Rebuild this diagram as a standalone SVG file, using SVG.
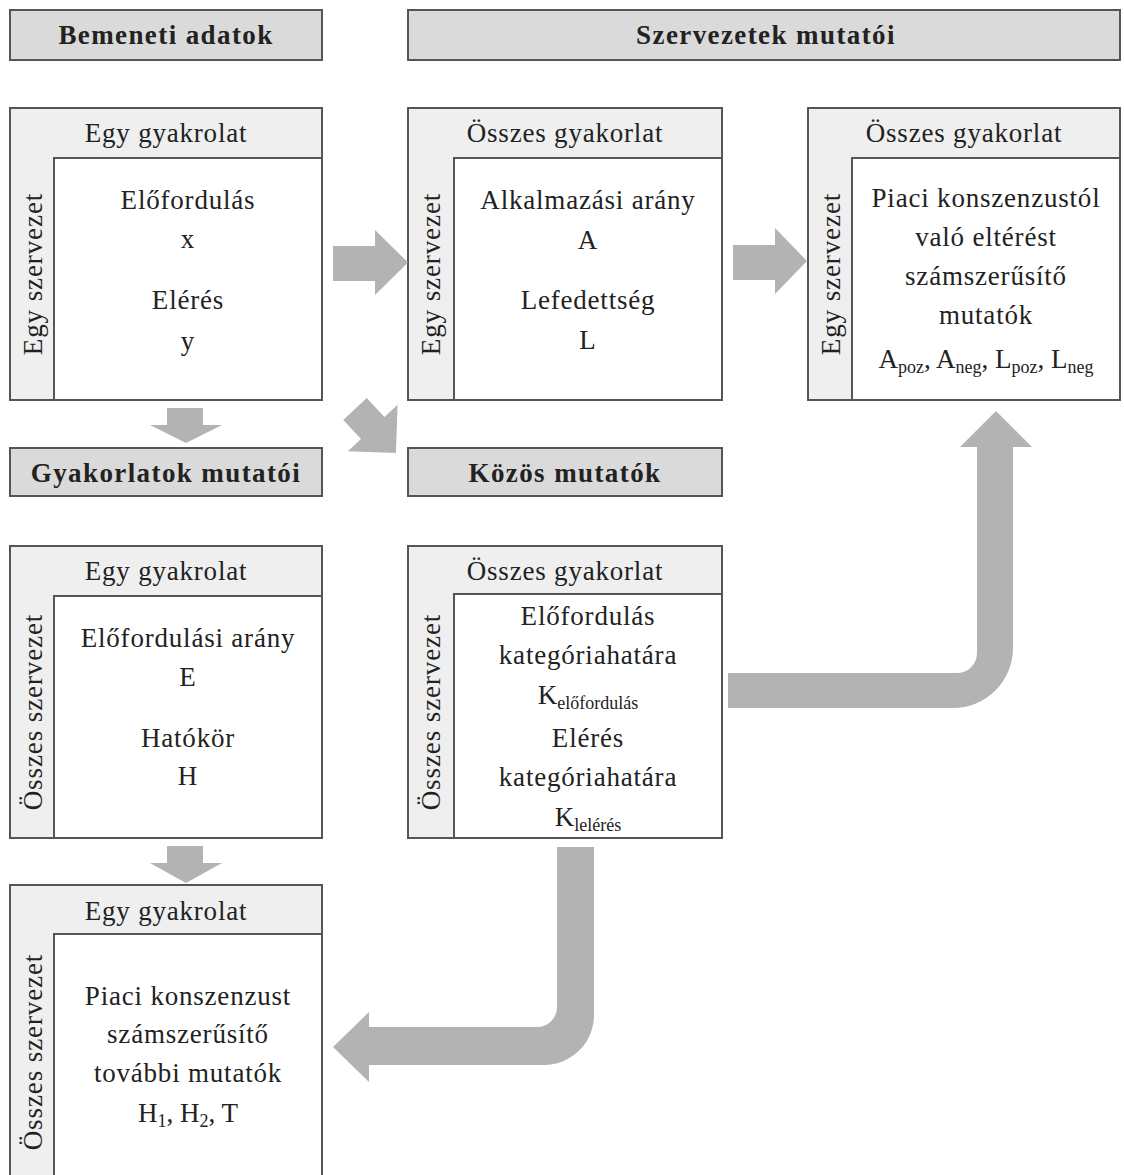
<svg xmlns="http://www.w3.org/2000/svg" width="1124" height="1175" viewBox="0 0 1124 1175">
<style>
text{font-family:"Liberation Serif","Times New Roman",serif;fill:#222;text-anchor:middle}
.hd{fill:#dadada;stroke:#555;stroke-width:2}
.ht{font-size:27px;font-weight:bold;letter-spacing:1.4px}
.outer{fill:#efefef;stroke:#555;stroke-width:2}
.inner{fill:#fff;stroke:#555;stroke-width:2}
.t{font-size:27px;letter-spacing:0.8px}
.v{font-size:27px;letter-spacing:0.9px}
.sub{font-size:18px;letter-spacing:0}
.arr{fill:#b3b3b3}
</style>
<rect width="1124" height="1175" fill="#fff"/>
<g id="h-bemeneti"><rect class="hd" x="10" y="10" width="312" height="50"/><text class="ht" x="166" y="44">Bemeneti adatok</text></g>
<g id="h-szervezetek"><rect class="hd" x="408" y="10" width="712" height="50"/><text class="ht" x="766" y="44">Szervezetek mutatói</text></g>
<g id="h-gyakorlatok"><rect class="hd" x="10" y="448" width="312" height="48"/><text class="ht" x="166" y="482">Gyakorlatok mutatói</text></g>
<g id="h-kozos"><rect class="hd" x="408" y="448" width="314" height="48"/><text class="ht" x="565" y="482">Közös mutatók</text></g>

<g id="box-input">
<rect class="outer" x="10" y="108" width="312" height="292"/>
<rect class="inner" x="54" y="158" width="268" height="242"/>
<text class="t" x="166" y="142">Egy gyakrolat</text>
<text class="v" transform="translate(42,274) rotate(-90)">Egy szervezet</text>
<text class="t" x="188" y="209">Előfordulás</text>
<text class="t" x="188" y="248">x</text>
<text class="t" x="188" y="309">Elérés</text>
<text class="t" x="188" y="350">y</text>
</g>

<g id="box-org1">
<rect class="outer" x="408" y="108" width="314" height="292"/>
<rect class="inner" x="454" y="158" width="268" height="242"/>
<text class="t" x="565" y="142">Összes gyakorlat</text>
<text class="v" transform="translate(440,274) rotate(-90)">Egy szervezet</text>
<text class="t" x="588" y="209">Alkalmazási arány</text>
<text class="t" x="588" y="249">A</text>
<text class="t" x="588" y="309">Lefedettség</text>
<text class="t" x="588" y="349">L</text>
</g>

<g id="box-org2">
<rect class="outer" x="808" y="108" width="312" height="292"/>
<rect class="inner" x="852" y="158" width="268" height="242"/>
<text class="t" x="964" y="142">Összes gyakorlat</text>
<text class="v" transform="translate(840,274) rotate(-90)">Egy szervezet</text>
<text class="t" x="986" y="207">Piaci konszenzustól</text>
<text class="t" x="986" y="246">való eltérést</text>
<text class="t" x="986" y="285">számszerűsítő</text>
<text class="t" x="986" y="324">mutatók</text>
<text class="t" x="986" y="368" style="letter-spacing:0">A<tspan class="sub" dy="5">poz</tspan><tspan dy="-5">, A</tspan><tspan class="sub" dy="5">neg</tspan><tspan dy="-5">, L</tspan><tspan class="sub" dy="5">poz</tspan><tspan dy="-5">, L</tspan><tspan class="sub" dy="5">neg</tspan></text>
</g>

<g id="box-prac1">
<rect class="outer" x="10" y="546" width="312" height="292"/>
<rect class="inner" x="54" y="596" width="268" height="242"/>
<text class="t" x="166" y="580">Egy gyakrolat</text>
<text class="v" transform="translate(42,712) rotate(-90)">Összes szervezet</text>
<text class="t" x="188" y="647">Előfordulási arány</text>
<text class="t" x="188" y="686">E</text>
<text class="t" x="188" y="747">Hatókör</text>
<text class="t" x="188" y="785">H</text>
</g>

<g id="box-common">
<rect class="outer" x="408" y="546" width="314" height="292"/>
<rect class="inner" x="454" y="594" width="268" height="244"/>
<text class="t" x="565" y="580">Összes gyakorlat</text>
<text class="v" transform="translate(440,712) rotate(-90)">Összes szervezet</text>
<text class="t" x="588" y="625">Előfordulás</text>
<text class="t" x="588" y="664">kategóriahatára</text>
<text class="t" x="588" y="704" style="letter-spacing:0">K<tspan class="sub" dy="5">előfordulás</tspan></text>
<text class="t" x="588" y="747">Elérés</text>
<text class="t" x="588" y="786">kategóriahatára</text>
<text class="t" x="588" y="826" style="letter-spacing:0">K<tspan class="sub" dy="5">lelérés</tspan></text>
</g>

<g id="box-prac2">
<rect class="outer" x="10" y="885" width="312" height="295"/>
<rect class="inner" x="54" y="934" width="268" height="246"/>
<text class="t" x="166" y="920">Egy gyakrolat</text>
<text class="v" transform="translate(42,1052) rotate(-90)">Összes szervezet</text>
<text class="t" x="188" y="1005">Piaci konszenzust</text>
<text class="t" x="188" y="1043">számszerűsítő</text>
<text class="t" x="188" y="1082">további mutatók</text>
<text class="t" x="188" y="1122" style="letter-spacing:0">H<tspan class="sub" dy="5">1</tspan><tspan dy="-5">, H</tspan><tspan class="sub" dy="5">2</tspan><tspan dy="-5">, T</tspan></text>
</g>

<g id="connectors">
<path class="arr" d="M333,246 L375,246 L375,230 L408,262.5 L375,295 L375,281 L333,281 Z"/>
<path class="arr" d="M733,245 L775,245 L775,228 L807,261 L775,294 L775,280 L733,280 Z"/>
<path class="arr" d="M167,408 L203,408 L203,425 L222,425 L186,443 L150,425 L167,425 Z"/>
<path class="arr" d="M167,846 L203,846 L203,863 L222,863 L186,883 L150,863 L167,863 Z"/>
<path class="arr" transform="translate(355,409) rotate(47)" d="M0,-16 L26,-16 L26,-34 L60,0 L26,34 L26,16 L0,16 Z"/>
<path class="arr" d="M728,673 L957,673 A20,20 0 0 0 977,653 L977,447 L960,447 L996,411 L1032,447 L1013,447 L1013,648 A60,60 0 0 1 953,708 L728,708 Z"/>
<path class="arr" d="M557,847 L594,847 L594,1015 A50,50 0 0 1 544,1065 L369,1065 L369,1082 L333,1047 L369,1012 L369,1027 L537,1027 A20,20 0 0 0 557,1007 Z"/>
</g>
</svg>
